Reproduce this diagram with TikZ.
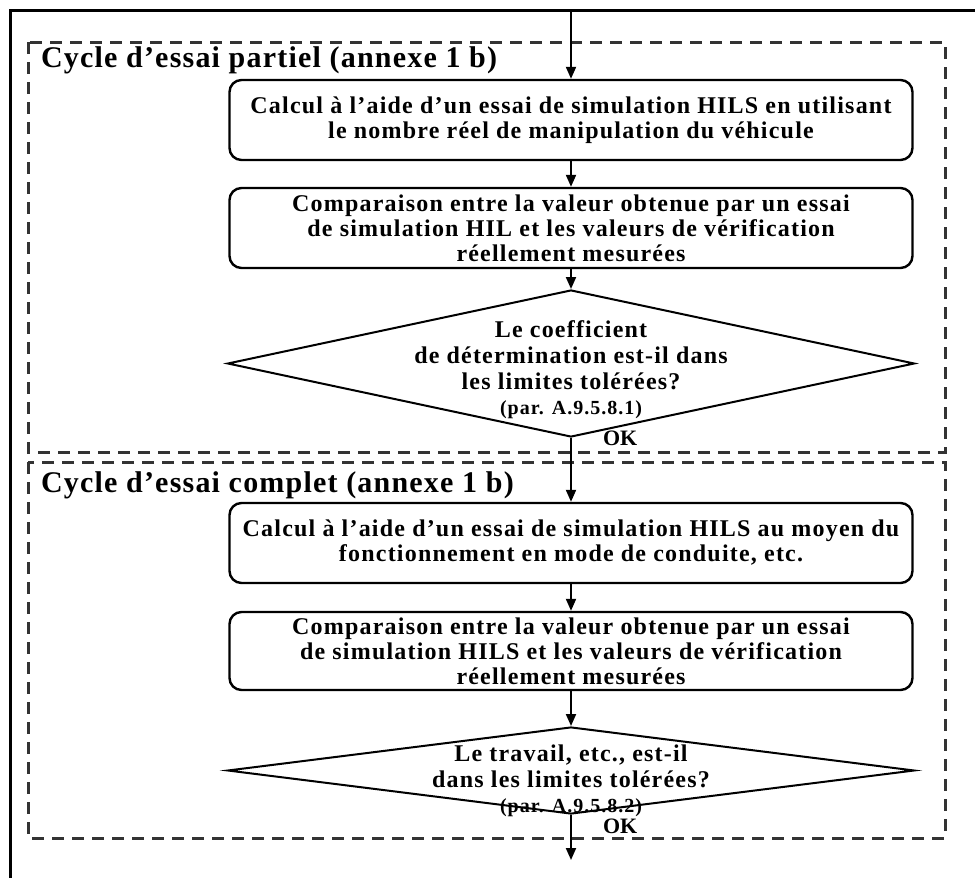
\documentclass[tikz,border=0pt]{standalone}
\usepackage{fontspec}
\setmainfont{Liberation Serif}
\usetikzlibrary{shapes.geometric,arrows.meta}
\newcommand\spaced{\addfontfeatures{LetterSpace=5}}
\tikzset{stepbox/.style={draw, line width=1.2pt, rounded corners=6pt, minimum width=341.5pt, minimum height=40pt, inner sep=0pt, align=center, font=\bfseries\fontsize{12}{12.5}\selectfont\spaced},
         choice/.style={draw, diamond, line width=1pt, minimum width=343.5pt, inner sep=0pt},
         qtext/.style={align=center, font=\bfseries\fontsize{12}{12.8}\selectfont\spaced},
         group/.style={draw=black!80, line width=1.5pt, dash pattern=on 6pt off 4pt},
         grouptitle/.style={anchor=west, font=\bfseries\fontsize{15}{16}\selectfont\addfontfeatures{LetterSpace=4}},
         flow/.style={line width=1pt, -{Triangle[length=6pt,width=5pt]}},
         ok/.style={anchor=west, font=\bfseries\fontsize{11}{12}\selectfont}}

\begin{document}
\begin{tikzpicture}[x=0.5pt,y=-0.5pt]
    \useasboundingbox (0,0) rectangle (975,878);
    \draw[line width=1.5pt] (10,878) -- (10,10) -- (975,10);

    % cycle partiel
    \draw[group] (28,42) rectangle (945,452);
    \node[grouptitle] (t1) at (34,60) {Cycle d’essai partiel (annexe 1 b)};
    \node[stepbox] (b1) at (571,120) {Calcul à l’aide d’un essai de simulation HILS en utilisant\\le nombre réel de manipulation du véhicule};
    \node[stepbox] (b2) at (571,228) {Comparaison entre la valeur obtenue par un essai\\de simulation HIL et les valeurs de vérification\\réellement mesurées};
    \node[choice, minimum height=73.5pt] (d1) at (571,363.5) {};
    \node[qtext] (q1) at (571,370) {Le coefficient\\de détermination est-il dans\\les limites tolérées?\\{\fontsize{10}{10}\selectfont\spaced (par. A.9.5.8.1)}};
    \node[ok] (ok1) at (596,438) {OK};

    % cycle complet
    \draw[group] (28,462) rectangle (945,838);
    \node[grouptitle] (t2) at (34,485) {Cycle d’essai complet (annexe 1 b)};
    \node[stepbox] (b3) at (571,543) {Calcul à l’aide d’un essai de simulation HILS au moyen du\\fonctionnement en mode de conduite, etc.};
    \node[stepbox, minimum height=39pt] (b4) at (571,651) {Comparaison entre la valeur obtenue par un essai\\de simulation HILS et les valeurs de vérification\\réellement mesurées};
    \node[choice, minimum height=43.5pt] (d2) at (571,770.5) {};
    \node[qtext] (q2) at (571,781) {Le travail, etc., est-il\\dans les limites tolérées?\\{\fontsize{10}{10}\selectfont\spaced (par. A.9.5.8.2)}};
    \node[ok] (ok2) at (596,826) {OK};

    \coordinate (in) at (571,10);
    \coordinate (out) at (571,860);
    \foreach \a/\b in {in/b1,b1/b2,b2/d1,d1/b3,b3/b4,b4/d2}
        \draw[flow] (\a.south) -- (\b.north);
    \draw[flow] (d2.south) -- (out);
\end{tikzpicture}
\end{document}
